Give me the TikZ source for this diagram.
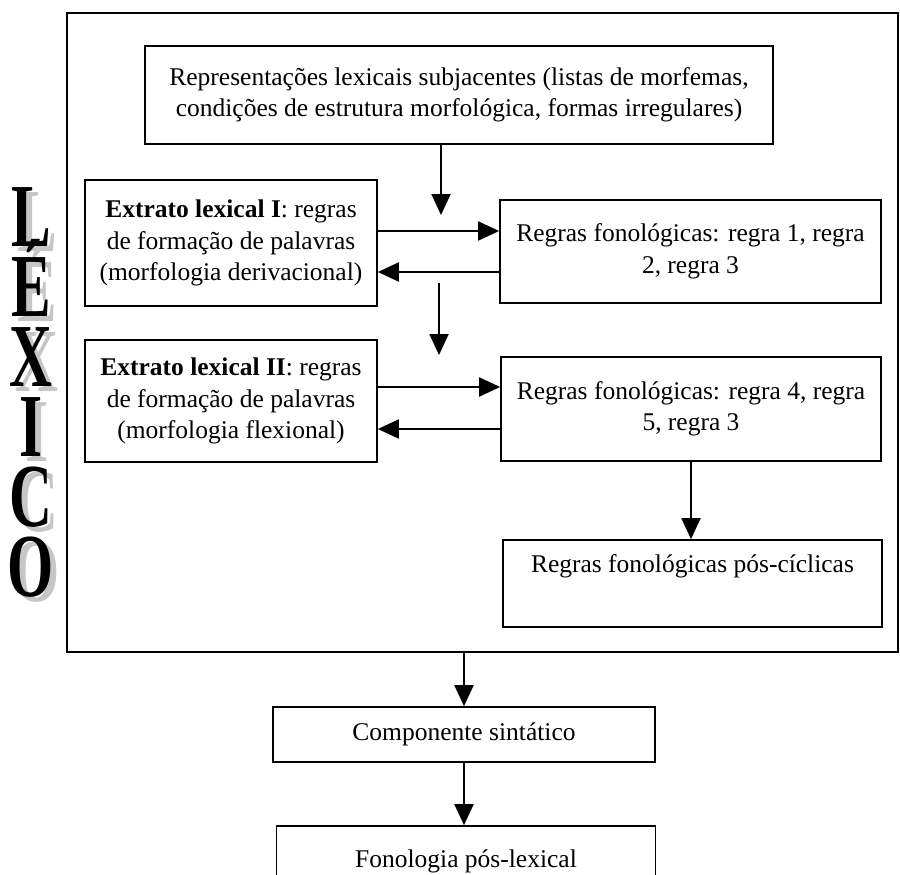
\documentclass[tikz,border=0pt]{standalone}
\usepackage{graphicx}
\usepackage{fontspec}
\setmainfont{Liberation Serif}
\usetikzlibrary{arrows.meta,positioning}
\tikzset{
    box/.style = {
        draw,
        line width=1.7pt,
        inner sep=0pt,
        align=center,
        font=\fontsize{25.5}{31.5}\selectfont,
        },
    frame/.style = {
        draw,
        line width=1.9pt,
        inner sep=0pt,
        },
    flow/.style = {
        draw,
        line width=2pt,
        -{Triangle[length=21pt,width=19pt]},
        },
    ghost/.style = {
        text = gray!45,
        inner sep=0pt,
        },
    letters/.style = {
        inner sep=0pt,
        },
}
\newcommand{\lexletters}{\scalebox{0.66}[1]{\fontsize{90}{70}\selectfont\bfseries
    \begin{tabular}{@{}c@{}}\smash{L}\\\smash{É}\\\smash{X}\\\smash{I}\\\smash{C}\\\smash{O}\end{tabular}}}

\begin{document}
\begin{tikzpicture}[x=1pt,y=-1pt]
            \useasboundingbox (0,0) rectangle (900,875);
            \clip (0,0) rectangle (900,875);

            % side label
            \node[ghost] (lexshadow) at (37,412) {\lexletters};
            \node[letters] (lexlabel) at (31,407) {\lexletters};

            \node[frame, minimum width=831pt, minimum height=639pt] (lexbox) at (482.5,332.5) {};

            \node[box, minimum width=628pt, minimum height=98pt] (repr) at (459,95)
                {Representações lexicais subjacentes (listas de morfemas,\\ condições de estrutura morfológica, formas irregulares)};
            \node[box, minimum width=292pt, minimum height=126pt] (ext1) at (231,243)
                {\textbf{Extrato lexical I}: regras\\ de formação de palavras\\ (morfologia derivacional)};
            \node[box, minimum width=381pt, minimum height=103pt] (fon1) at (690.5,251.5)
                {Regras fonológicas: regra 1, regra\\ 2, regra 3};
            \node[box, minimum width=292pt, minimum height=122pt] (ext2) at (231,401)
                {\textbf{Extrato lexical II}: regras\\ de formação de palavras\\ (morfologia flexional)};
            \node[box, minimum width=380pt, minimum height=104pt] (fon2) at (691,409)
                {Regras fonológicas: regra 4, regra\\ 5, regra 3};
            \node[box, minimum width=379pt, minimum height=87pt] (pos) at (692.5,583.5)
                {Regras fonológicas pós-cíclicas\\ \strut};
            \node[box, minimum width=382pt, minimum height=55pt] (sint) at (464,734.5)
                {Componente sintático};
            \node[box, minimum width=379pt, minimum height=70pt] (fonpos) at (466,861)
                {Fonologia pós-lexical};

            \coordinate (drop1) at (441,215);
            \coordinate (drop2) at (439,283);
            \coordinate (drop2end) at (439,355);

            % down the strata
            \path (repr.south -| drop1) edge[flow] (drop1);
            \path (drop2) edge[flow] (drop2end);
            % stratum I <-> rules
            \path (ext1.east |- 0,231) edge[flow] (fon1.west |- 0,231);
            \path (fon1.west |- 0,272) edge[flow] (ext1.east |- 0,272);
            % stratum II <-> rules
            \path (ext2.east |- 0,387) edge[flow] (fon2.west |- 0,387);
            \path (fon2.west |- 0,429) edge[flow] (ext2.east |- 0,429);
            \path (fon2.south) edge[flow] (fon2.south |- pos.north);
            % out of the lexicon
            \path (lexbox.south -| sint) edge[flow] (sint);
            \path (sint.south) edge[flow] (sint.south |- fonpos.north);
        \end{tikzpicture}
\end{document}
